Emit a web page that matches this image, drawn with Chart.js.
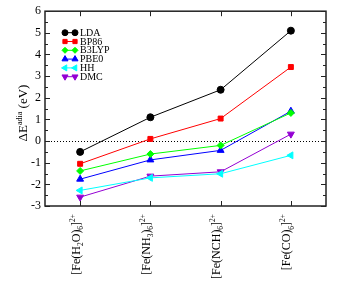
<!DOCTYPE html>
<html lang="en">
<head>
  <meta charset="UTF-8" />
  <title>Adiabatic energy differences</title>
  <script src="https://cdn.jsdelivr.net/npm/chart.js"></script>
  <style>
    body { margin: 0; background: #fff; }
    canvas { display: block; }
  </style>
</head>
<body>
  <canvas id="chart" width="363" height="281"></canvas>

  <script>
    // complexes on the x axis ( _{..} subscript, ^{..} superscript )
    const complexes = ['[Fe(H_{2}O)_{6}]^{2+}', '[Fe(NH_{3})_{6}]^{2+}', '[Fe(NCH)_{6}]^{2+}', '[Fe(CO)_{6}]^{2+}'];
    const yTicks = [-3, -2, -1, 0, 1, 2, 3, 4, 5, 6];

    // Delta E adia (eV)
    const lda   = [-0.50,  1.10,  2.37, 5.10];
    const bp86  = [-1.05,  0.10,  1.04, 3.42];
    const b3lyp = [-1.38, -0.60, -0.20, 1.30];
    const pbe0  = [-1.76, -0.87, -0.43, 1.38];
    const hh    = [-2.28, -1.70, -1.51, -0.66];
    const dmc   = [-2.59, -1.62, -1.42, 0.32];

    const SERIF = '"Liberation Serif", "DejaVu Serif", serif';

    function ds(label, data, color, style, radius, rotation) {
      return {
        label, data,
        borderColor: color, backgroundColor: color,
        borderWidth: 1,
        pointStyle: style, pointRadius: radius, pointRotation: rotation || 0,
        pointBorderWidth: 1, pointBorderColor: color, pointBackgroundColor: color,
        tension: 0
      };
    }

    // split "a_{b}c^{d}" into [text, shift] pieces
    function parts(str) {
      const out = [];
      const re = /([_^])\{([^}]*)\}|([^_^]+)/g;
      let m;
      while ((m = re.exec(str)) !== null) {
        if (m[3]) out.push([m[3], 0]);
        else out.push([m[2], m[1] === '_' ? -1 : 1]);
      }
      return out;
    }

    // draw rich text along +x in current transform, starting at (x, 0)
    function richText(ctx, pieces, x, size) {
      pieces.forEach(([t, s]) => {
        const fs = s === 0 ? size : size * 0.62;
        ctx.font = fs + 'px ' + SERIF;
        const dy = s === 0 ? 0 : (s < 0 ? size * 0.28 : -size * 0.42);
        ctx.fillText(t, x, dy);
        x += ctx.measureText(t).width;
      });
      return x;
    }
    function richWidth(ctx, pieces, size) {
      let w = 0;
      pieces.forEach(([t, s]) => {
        ctx.font = (s === 0 ? size : size * 0.62) + 'px ' + SERIF;
        w += ctx.measureText(t).width;
      });
      return w;
    }

    const decorations = {
      id: 'decorations',
      beforeDatasetsDraw(chart) {
        const { ctx, chartArea: a, scales: { y } } = chart;
        // dotted zero line
        ctx.save();
        ctx.strokeStyle = '#000';
        ctx.lineWidth = 1;
        ctx.setLineDash([1, 2]);
        ctx.beginPath();
        ctx.moveTo(a.left, Math.round(y.getPixelForValue(0)) + 0.5);
        ctx.lineTo(a.right, Math.round(y.getPixelForValue(0)) + 0.5);
        ctx.stroke();
        ctx.restore();
      },
      afterDraw(chart) {
        const { ctx, chartArea: a, scales: { x, y } } = chart;
        ctx.save();
        ctx.strokeStyle = '#222';
        ctx.lineWidth = 1.5;
        ctx.strokeRect(a.left, a.top, a.right - a.left, a.bottom - a.top);

        // inward ticks
        ctx.lineWidth = 1;
        ctx.beginPath();
        for (let v = -3; v <= 6; v += 0.5) {
          const py = Math.round(y.getPixelForValue(v)) + 0.5;
          const len = Number.isInteger(v) ? 5 : 3;
          ctx.moveTo(a.left, py); ctx.lineTo(a.left + len, py);
          ctx.moveTo(a.right, py); ctx.lineTo(a.right - len, py);
        }
        complexes.forEach((c, i) => {
          const px = Math.round(x.getPixelForValue(i)) + 0.5;
          ctx.moveTo(px, a.bottom); ctx.lineTo(px, a.bottom - 5);
          ctx.moveTo(px, a.top); ctx.lineTo(px, a.top + 5);
        });
        ctx.stroke();

        // rotated category labels, ending near the axis
        ctx.fillStyle = '#000';
        ctx.textBaseline = 'alphabetic';
        ctx.textAlign = 'left';
        complexes.forEach((c, i) => {
          const pieces = parts(c);
          const w = richWidth(ctx, pieces, 12);
          ctx.save();
          ctx.translate(x.getPixelForValue(i) - 0.5, a.bottom + 8);
          ctx.rotate(-Math.PI / 2);
          richText(ctx, pieces, -w, 12);
          ctx.restore();
        });

        // y axis title
        const title = parts('\u0394E^{adia} (eV)');
        const tw = richWidth(ctx, title, 13);
        ctx.save();
        ctx.translate(27, 113);
        ctx.rotate(-Math.PI / 2);
        richText(ctx, title, -tw / 2, 13);
        ctx.restore();

        // legend: line with two markers, then label
        const lx = a.left + 20, ly = a.top + 21.5, step = 8.8;
        chart.data.datasets.forEach((d, i) => {
          const py = ly + i * step;
          ctx.strokeStyle = d.borderColor;
          ctx.lineWidth = 1;
          ctx.beginPath();
          ctx.moveTo(lx, py); ctx.lineTo(lx + 10, py);
          ctx.stroke();
          const opts = {
            pointStyle: d.pointStyle, radius: d.pointRadius - 0.5,
            rotation: d.pointRotation, borderWidth: 1
          };
          ctx.fillStyle = d.backgroundColor;
          Chart.helpers.drawPoint(ctx, opts, lx, py);
          Chart.helpers.drawPoint(ctx, opts, lx + 10, py);
          ctx.fillStyle = '#000';
          ctx.font = '10px ' + SERIF;
          ctx.textBaseline = 'middle';
          ctx.fillText(d.label, lx + 15, py + 0.5);
        });
        ctx.restore();
      }
    };

    new Chart(document.getElementById('chart').getContext('2d'), {
      type: 'line',
      data: {
        labels: complexes,
        datasets: [
          ds('LDA',   lda,   '#000000', 'circle',   3.5),
          ds('BP86',  bp86,  '#ff0000', 'rect',     3.5),
          ds('B3LYP', b3lyp, '#00ff00', 'rectRot',  3.5),
          ds('PBE0',  pbe0,  '#0000ff', 'triangle', 4),
          ds('HH',    hh,    '#00ffff', 'triangle', 4, -90),
          ds('DMC',   dmc,   '#9400d3', 'triangle', 4, 180)
        ]
      },
      options: {
        responsive: false,
        animation: false,
        layout: { padding: { top: 9, right: 37, left: 0, bottom: 0 } },
        plugins: { legend: { display: false }, tooltip: { enabled: false } },
        scales: {
          x: {
            type: 'category',
            offset: true,
            grid: { display: false },
            border: { display: false },
            ticks: { display: false },
            afterFit: s => { s.height = 75; }
          },
          y: {
            min: -3, max: 6,
            grid: { display: false, drawTicks: false },
            border: { display: false },
            afterFit: s => { s.width = 45; },
            afterBuildTicks: s => { s.ticks = yTicks.map(v => ({ value: v })); },
            ticks: {
              padding: 4,
              color: '#000',
              font: { family: SERIF, size: 12 }
            }
          }
        }
      },
      plugins: [decorations]
    });
  </script>
</body>
</html>
